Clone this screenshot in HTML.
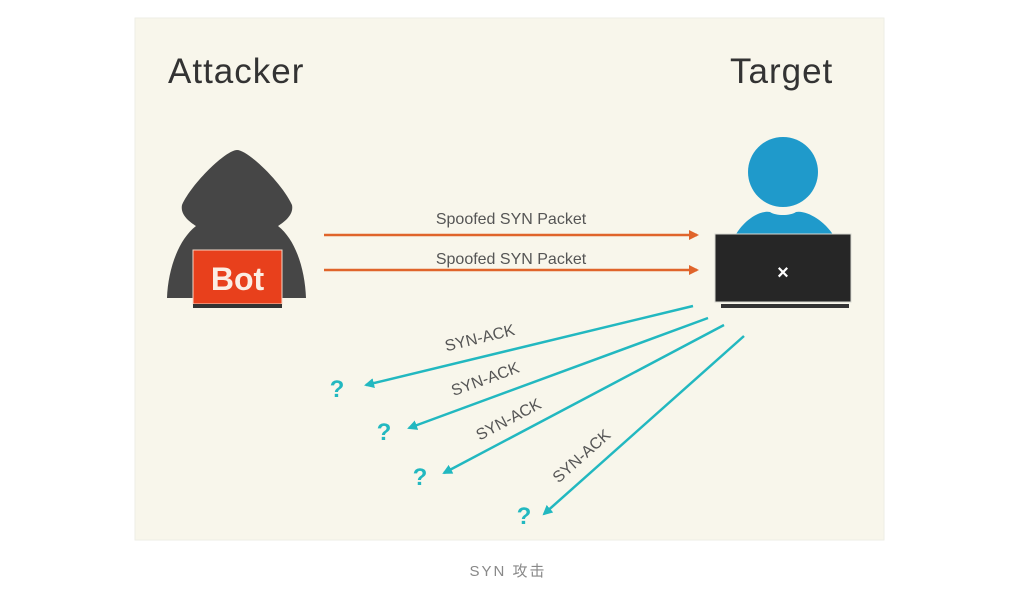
<!DOCTYPE html><html><head><style>body{margin:0;background:#fff}</style></head><body>
<svg width="1016" height="585" xmlns="http://www.w3.org/2000/svg" font-family="Liberation Sans, sans-serif">
<defs>
<marker id="o" markerWidth="10" markerHeight="10" refX="8" refY="5" orient="auto" markerUnits="userSpaceOnUse"><path d="M0,0 L10,5 L0,10z" fill="#e0642a"/></marker>
<marker id="c" markerWidth="10" markerHeight="10" refX="8" refY="5" orient="auto" markerUnits="userSpaceOnUse"><path d="M0,0 L10,5 L0,10z" fill="#22b8c0"/></marker>
</defs>
<rect x="135" y="18" width="749" height="522" fill="#f8f6eb" stroke="#eeeee6"/>
<text x="168" y="83" font-size="35" fill="#333" letter-spacing="1">Attacker</text>
<text x="730" y="83" font-size="35" fill="#333" letter-spacing="1">Target</text>
<path d="M237,150 C226,150 192,183 182,205 C180,215 190,222 196,226 C178,240 168,270 167,298 L306,298 C305,270 296,240 278,226 C284,222 294,215 292,205 C282,183 248,150 237,150z" fill="#464646"/>
<rect x="193" y="250" width="89" height="54" fill="#e8401c" stroke="#f3d8c8" stroke-width="1"/>
<rect x="193" y="304" width="89" height="4" fill="#333"/>
<text x="237.5" y="290" font-size="32" fill="#fbeee4" text-anchor="middle" font-weight="bold">Bot</text>
<circle cx="783" cy="172" r="35" fill="#1f9acb"/>
<path d="M735,236 C745,218 762,210 770,212 C776,216 790,216 796,212 C806,210 824,220 834,236z" fill="#1f9acb"/>
<rect x="715" y="234" width="136" height="68" fill="#262626" stroke="#d8d8d0" stroke-width="1"/>
<rect x="721" y="304" width="128" height="4" fill="#333"/>
<text x="783" y="279" font-size="20" fill="#fff" text-anchor="middle" font-weight="bold">×</text>
<g stroke="#e0642a" stroke-width="2.5"><line x1="324" y1="235" x2="697" y2="235" marker-end="url(#o)"/><line x1="324" y1="270" x2="697" y2="270" marker-end="url(#o)"/></g>
<g font-size="16" fill="#555" text-anchor="middle"><text x="511" y="224">Spoofed SYN Packet</text><text x="511" y="264">Spoofed SYN Packet</text></g>
<g stroke="#22b8c0" stroke-width="2.5">
<line x1="693" y1="306" x2="366" y2="385" marker-end="url(#c)"/>
<line x1="708" y1="318" x2="409" y2="428" marker-end="url(#c)"/>
<line x1="724" y1="325" x2="444" y2="473" marker-end="url(#c)"/>
<line x1="744" y1="336" x2="544" y2="514" marker-end="url(#c)"/>
</g>
<g font-size="16" fill="#555" text-anchor="middle">
<text transform="translate(481,343) rotate(-13.6)">SYN-ACK</text>
<text transform="translate(487,384) rotate(-20)">SYN-ACK</text>
<text transform="translate(511,424) rotate(-28)">SYN-ACK</text>
<text transform="translate(585,460) rotate(-41.7)">SYN-ACK</text>
</g>
<g font-size="24" fill="#22b8c0" text-anchor="middle" font-weight="bold">
<text x="337" y="397">?</text><text x="384" y="440">?</text><text x="420" y="485">?</text><text x="524" y="524">?</text>
</g>
<text x="508" y="576" font-size="15" fill="#888" text-anchor="middle" letter-spacing="2" font-family="Liberation Sans, Noto Sans CJK SC, sans-serif">SYN 攻击</text>
</svg>
</body></html>
